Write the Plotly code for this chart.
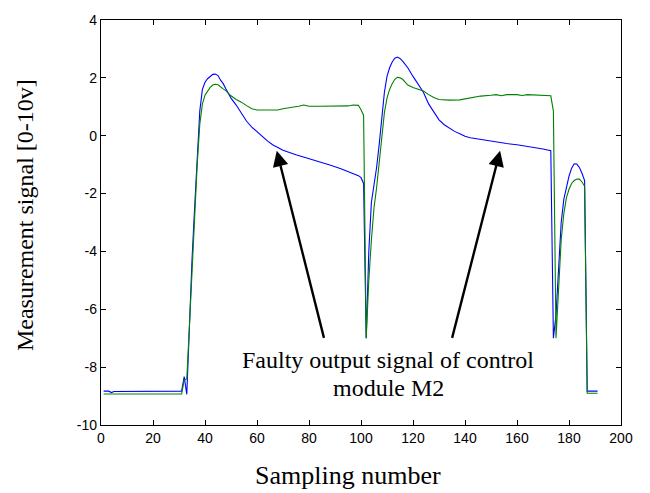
import plotly.graph_objects as go

# ---- data ----
blue_x = [1, 3, 4, 5, 31, 32, 33, 34, 35, 36, 37, 38, 39, 40, 41, 42, 43, 44, 45, 46,
          47, 48, 49, 50, 52, 54, 56, 58, 60, 62, 64, 66, 70, 75, 80, 85, 88, 92, 96, 99,
          100, 101, 102, 103, 104, 105, 106, 107, 108, 109, 110, 111, 112, 113, 114, 115, 116, 117, 118, 120,
          122, 124, 126, 128, 130, 132, 134, 136, 138, 140, 142, 144, 148, 152, 156, 160, 165, 170, 173, 174,
          175, 176, 177, 178, 179, 180, 181, 182, 183, 184, 185, 186, 187, 191]
blue_y = [-8.83, -8.83, -8.88, -8.84, -8.83, -8.33, -8.94, -6.3, -4.3, -2.5, -0.8, 0.86, 1.6, 1.85, 1.97, 2.06, 2.12, 2.13, 2.08, 1.92,
          1.8, 1.62, 1.45, 1.3, 1.06, 0.76, 0.5, 0.3, 0.13, -0.03, -0.18, -0.31, -0.5, -0.66, -0.79, -0.92, -1.01, -1.13, -1.27, -1.38,
          -1.45, -1.65, -7.0, -4.0, -2.3, -1.7, -1.1, -0.3, 0.7, 1.5, 2.05, 2.35, 2.55, 2.68, 2.72, 2.67, 2.58, 2.48, 2.35, 2.05,
          1.78, 1.5, 1.1, 0.8, 0.55, 0.38, 0.25, 0.15, 0.07, -0.02, -0.07, -0.1, -0.16, -0.22, -0.27, -0.31, -0.38, -0.46, -0.52, -7.0,
          -6.2, -4.4, -3.0, -2.2, -1.8, -1.4, -1.12, -0.97, -0.98, -1.1, -1.3, -1.55, -8.83, -8.83]

green_x = [1, 31, 32, 33, 34, 35, 36, 37, 38, 39, 40, 41, 42, 43, 44, 45, 46, 47, 48, 50,
           52, 54, 56, 58, 60, 64, 68, 70, 74, 76, 78, 80, 84, 88, 92, 95, 97, 99, 100, 101,
           102, 103, 104, 105, 106, 107, 108, 109, 110, 111, 112, 113, 114, 115, 116, 117, 118, 120, 122, 124,
           126, 128, 130, 134, 138, 142, 146, 150, 152, 154, 156, 160, 162, 164, 168, 170, 172, 173, 174, 175,
           176, 177, 178, 179, 180, 181, 182, 183, 184, 185, 186, 187, 191]
green_y = [-8.93, -8.93, -8.45, -8.4, -6.6, -4.6, -2.8, -1.0, 0.4, 1.1, 1.4, 1.55, 1.67, 1.75, 1.78, 1.76, 1.68, 1.62, 1.56, 1.38,
           1.25, 1.16, 1.04, 0.93, 0.89, 0.88, 0.89, 0.93, 0.98, 1.02, 1.06, 1.02, 1.02, 1.02, 1.02, 1.03, 1.06, 1.05, 0.9, 0.7,
           -7.0, -5.0, -3.6, -2.5, -1.8, -0.9, 0.0, 0.8, 1.3, 1.6, 1.8, 1.95, 2.02, 2.0, 1.95, 1.85, 1.75, 1.67, 1.6, 1.55,
           1.42, 1.32, 1.25, 1.23, 1.24, 1.3, 1.37, 1.4, 1.42, 1.38, 1.42, 1.42, 1.39, 1.42, 1.41, 1.38, 1.4, 1.38, 0.85, -7.0,
           -5.3, -3.6, -2.7, -2.15, -1.85, -1.65, -1.55, -1.5, -1.5, -1.6, -1.75, -8.9, -8.9]

x_ticks = [0, 20, 40, 60, 80, 100, 120, 140, 160, 180, 200]
y_ticks = [-10, -8, -6, -4, -2, 0, 2, 4]
x_tick_text = [str(v) for v in x_ticks]
y_tick_text = [str(v) for v in y_ticks]

note_line1 = "Faulty output signal of control"
note_line2 = "module M2"
x_title = "Sampling number"
y_title = "Measurement signal [0-10v]"

assert len(blue_x) == len(blue_y) and len(green_x) == len(green_y)

serif = "Liberation Serif, Times New Roman, serif"
sans = "Liberation Sans, Arial, sans-serif"

fig = go.Figure()
fig.add_trace(go.Scatter(x=blue_x, y=blue_y, mode="lines",
                         line=dict(color="#0000ff", width=1.1), showlegend=False))
fig.add_trace(go.Scatter(x=green_x, y=green_y, mode="lines",
                         line=dict(color="#008000", width=1.1), showlegend=False))

axis_common = dict(showgrid=False, zeroline=False, showline=True, linecolor="black",
                   linewidth=1.3, mirror="ticks", ticks="inside", ticklen=5,
                   tickcolor="black", tickwidth=1,
                   tickfont=dict(family=sans, size=14, color="black"))

fig.update_xaxes(range=[0, 200], tickvals=x_ticks, ticktext=x_tick_text, **axis_common)
fig.update_yaxes(range=[-10, 4], tickvals=y_ticks, ticktext=y_tick_text, **axis_common)

annotations = [
    # arrows
    dict(x=67.6, y=-0.52, ax=85.9, ay=-7.04, xref="x", yref="y", axref="x", ayref="y",
         text="", showarrow=True, arrowhead=2, arrowsize=1.3, arrowwidth=2.4, arrowcolor="black"),
    dict(x=153.5, y=-0.52, ax=134.9, ay=-7.04, xref="x", yref="y", axref="x", ayref="y",
         text="", showarrow=True, arrowhead=2, arrowsize=1.3, arrowwidth=2.4, arrowcolor="black"),
    # note text
    dict(x=110.4, y=-7.77, xref="x", yref="y", text=note_line1, showarrow=False,
         xanchor="center", yanchor="middle", font=dict(family=serif, size=24, color="black")),
    dict(x=110.4, y=-8.73, xref="x", yref="y", text=note_line2, showarrow=False,
         xanchor="center", yanchor="middle", font=dict(family=serif, size=24, color="black")),
    # axis titles
    dict(x=(347.5 - 101) / 520, y=-(476 - 425) / 410, xref="paper", yref="paper", text=x_title,
         showarrow=False, xanchor="center", yanchor="middle",
         font=dict(family=serif, size=26, color="black")),
    dict(x=(25 - 101) / 520, y=(425 - 212.5) / 410, xref="paper", yref="paper", text=y_title,
         showarrow=False, xanchor="center", yanchor="middle", textangle=-90,
         font=dict(family=serif, size=24, color="black")),
]

fig.update_layout(width=650, height=493, margin=dict(l=101, r=29, t=15, b=68),
                  paper_bgcolor="white", plot_bgcolor="white",
                  annotations=annotations, showlegend=False)

fig.write_html("out.html")
